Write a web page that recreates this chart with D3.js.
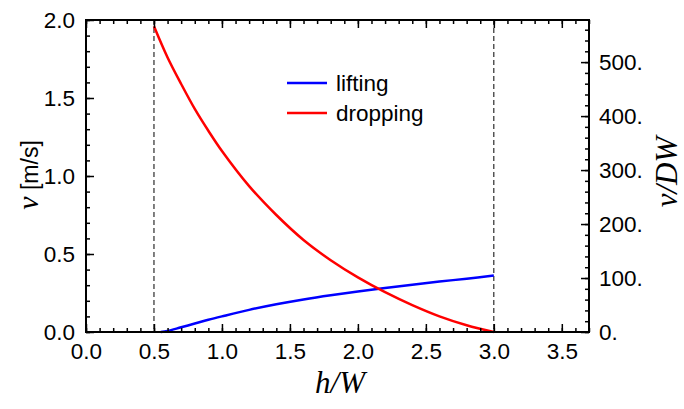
<!DOCTYPE html>
<html><head><meta charset="utf-8">
<script src="https://cdn.jsdelivr.net/npm/d3@7"></script>
<style>body{margin:0;background:#fff}</style>
</head><body>
<svg id="c" width="684" height="409"></svg>
<script>
const liftH = [0.55,0.6,0.7,0.8,0.9,1.0,1.2,1.4,1.6,1.8,2.0,2.2,2.4,2.6,2.8,3.0];
const liftV = [0,0.006,0.03,0.054,0.078,0.1,0.142,0.178,0.209,0.236,0.26,0.282,0.303,0.323,0.342,0.362];
const dropH = [0.5,0.6,0.7,0.8,0.9,1.0,1.2,1.4,1.6,1.8,2.0,2.2,2.4,2.6,2.8,3.0];
const dropV = [1.96,1.76,1.59,1.43,1.29,1.16,0.935,0.75,0.59,0.46,0.35,0.255,0.172,0.1,0.043,0];
const xTicks = [0,0.5,1,1.5,2,2.5,3,3.5];
const yTicks = [0,0.5,1,1.5,2];
const y2Ticks = [0,100,200,300,400,500];
const seriesNames = ["lifting","dropping"];
const colors = ["#0000ff","#ff0000"];
const markers = [0.5,3.0];

const svg = d3.select("#c");
const L=86,R=589,T=20,B=332;
const x = d3.scaleLinear().domain([0,3.7]).range([L,R]);
const y = d3.scaleLinear().domain([0,2]).range([B,T]);
const y2 = d3.scaleLinear().domain([0,578]).range([B,T]);
const font = "Liberation Sans, Arial, sans-serif";
const fs = 22.5;

markers.forEach(m=>{
  svg.append("line").attr("x1",x(m)).attr("x2",x(m)).attr("y1",T).attr("y2",B)
    .attr("stroke","#000").attr("stroke-width",1).attr("stroke-dasharray","5,3");
});

const line = d3.line().x(d=>x(d[0])).y(d=>y(d[1])).curve(d3.curveCatmullRom.alpha(0.5));
svg.append("path").datum(liftH.map((h,i)=>[h,liftV[i]])).attr("d",line)
  .attr("fill","none").attr("stroke",colors[0]).attr("stroke-width",2.5);
svg.append("path").datum(dropH.map((h,i)=>[h,dropV[i]])).attr("d",line)
  .attr("fill","none").attr("stroke",colors[1]).attr("stroke-width",2.5);

function styleAx(g){ g.select(".domain").remove(); g.selectAll("line").attr("stroke","#000").attr("stroke-width",1.5); g.selectAll("text").attr("font-family",font).attr("font-size",fs).attr("fill","#000"); }
const xMinor = d3.range(0,3.71,0.1).map(v=>+v.toFixed(2));
const yMinor = d3.range(0,2.01,0.1).map(v=>+v.toFixed(2));
const y2Minor = d3.range(0,578,20);

svg.append("g").attr("transform",`translate(0,${B})`).call(d3.axisBottom(x).tickValues(xMinor).tickSize(-4).tickFormat("")).call(styleAx);
svg.append("g").attr("transform",`translate(0,${B})`).call(d3.axisBottom(x).tickValues(xTicks).tickSize(-8).tickPadding(11).tickFormat(d3.format(".1f"))).call(styleAx);
svg.append("g").attr("transform",`translate(0,${T})`).call(d3.axisTop(x).tickValues(xMinor).tickSize(-4).tickFormat("")).call(styleAx);
svg.append("g").attr("transform",`translate(0,${T})`).call(d3.axisTop(x).tickValues(xTicks).tickSize(-8).tickFormat("")).call(styleAx);
svg.append("g").attr("transform",`translate(${L},0)`).call(d3.axisLeft(y).tickValues(yMinor).tickSize(-4).tickFormat("")).call(styleAx);
svg.append("g").attr("transform",`translate(${L},0)`).call(d3.axisLeft(y).tickValues(yTicks).tickSize(-8).tickPadding(11).tickFormat(d3.format(".1f"))).call(styleAx);
svg.append("g").attr("transform",`translate(${R},0)`).call(d3.axisRight(y2).tickValues(y2Minor).tickSize(-4).tickFormat("")).call(styleAx);
svg.append("g").attr("transform",`translate(${R},0)`).call(d3.axisRight(y2).tickValues(y2Ticks).tickSize(-8).tickPadding(10).tickFormat(d=>d+".")).call(styleAx);

svg.append("rect").attr("x",L).attr("y",T).attr("width",R-L).attr("height",B-T)
  .attr("fill","none").attr("stroke","#000").attr("stroke-width",2);

seriesNames.forEach((n,i)=>{
  const ly = 83 + i*30;
  svg.append("line").attr("x1",287).attr("x2",327).attr("y1",ly).attr("y2",ly).attr("stroke",colors[i]).attr("stroke-width",2.5);
  svg.append("text").attr("x",336).attr("y",ly+8).attr("font-family",font).attr("font-size",fs).text(n);
});

const serif = "Liberation Serif, Times New Roman, serif";
const yl = svg.append("text").attr("transform","translate(38,175) rotate(-90)").attr("text-anchor","middle");
yl.append("tspan").attr("font-family",serif).attr("font-style","italic").attr("font-size",30).text("v");
yl.append("tspan").attr("font-family",font).attr("font-size",23).text(" [m/s]");
svg.append("text").attr("transform","translate(677,172) rotate(-90)").attr("text-anchor","middle")
  .attr("font-family",serif).attr("font-style","italic").attr("font-size",31).text("v/DW");
svg.append("text").attr("x",340).attr("y",393).attr("text-anchor","middle")
  .attr("font-family",serif).attr("font-style","italic").attr("font-size",31).text("h/W");
</script>
</body></html>
